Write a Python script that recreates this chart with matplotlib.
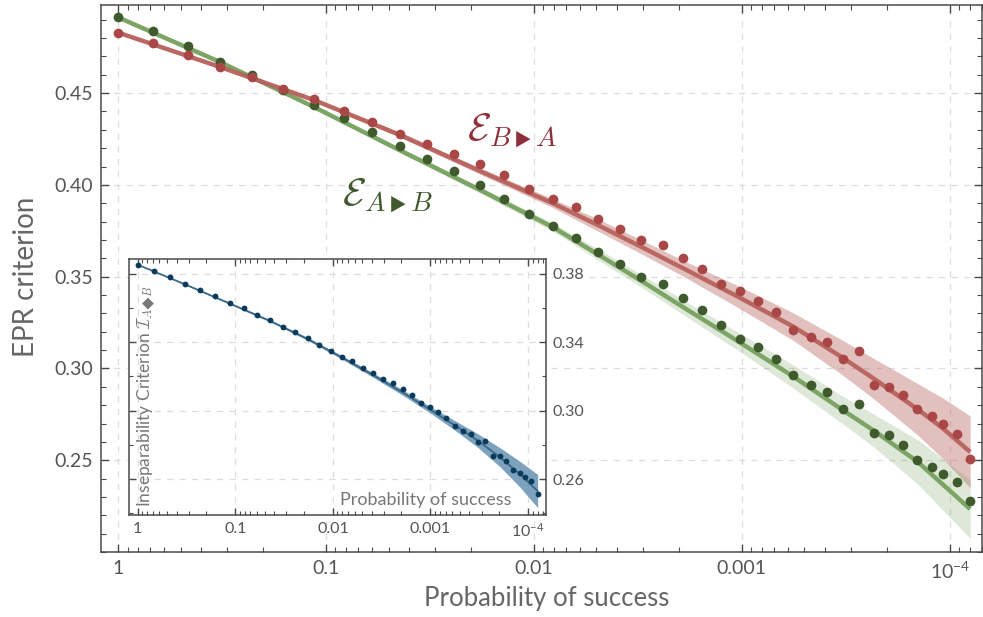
import matplotlib
matplotlib.use('Agg')
import matplotlib.pyplot as plt
import numpy as np

# probability of success (shared by all three data sets)
prob = [1.0, 0.676, 0.463, 0.324, 0.228, 0.160, 0.114, 0.0817, 0.0598, 0.0440,
        0.0327, 0.0242, 0.0182, 0.0139, 0.0105, 0.00811, 0.00630, 0.00490, 0.00387, 0.00304,
        0.00240, 0.00191, 0.00155, 0.00126, 0.00102, 0.000832, 0.000687, 0.000566, 0.000467, 0.000388,
        0.000327, 0.000274, 0.000231, 0.000196, 0.000168, 0.000143, 0.000122, 0.000108, 0.0000927, 0.0000798]

# measured EPR criterion
epr_ba = [0.4830, 0.4773, 0.4710, 0.4643, 0.4587, 0.4520, 0.4466, 0.4401, 0.4344, 0.4279,
          0.4224, 0.4168, 0.4114, 0.4056, 0.3980, 0.3924, 0.3879, 0.3814, 0.3757, 0.3701,
          0.3674, 0.3599, 0.3543, 0.3460, 0.3422, 0.3366, 0.3310, 0.3208, 0.3170, 0.3143,
          0.3049, 0.3096, 0.2909, 0.2901, 0.2853, 0.2779, 0.2743, 0.2696, 0.2641, 0.2509]
epr_ab = [0.4915, 0.4839, 0.4755, 0.4670, 0.4596, 0.4518, 0.4436, 0.4362, 0.4288, 0.4214,
          0.4140, 0.4074, 0.4000, 0.3924, 0.3842, 0.3776, 0.3712, 0.3636, 0.3571, 0.3498,
          0.3460, 0.3386, 0.3321, 0.3235, 0.3161, 0.3116, 0.3049, 0.2966, 0.2909, 0.2873,
          0.2779, 0.2808, 0.2648, 0.2640, 0.2583, 0.2500, 0.2462, 0.2426, 0.2380, 0.2277]
# inseparability criterion (inset)
insep = [0.3854, 0.3815, 0.3783, 0.3743, 0.3703, 0.3672, 0.3631, 0.3602, 0.3561, 0.3528,
         0.3489, 0.3458, 0.3424, 0.3386, 0.3347, 0.3314, 0.3293, 0.3250, 0.3219, 0.3188,
         0.3164, 0.3125, 0.3092, 0.3045, 0.3022, 0.2990, 0.2958, 0.2911, 0.2880, 0.2863,
         0.2815, 0.2824, 0.2735, 0.2736, 0.2704, 0.2653, 0.2637, 0.2610, 0.2587, 0.2513]

# theory curves (main plot), read at selected probability values
fit_idx = [0, 3, 6, 9, 12, 15, 17, 19, 21, 24, 27, 30, 32, 35, 37, 39]
fit_ba = [0.4830, 0.4643, 0.4462, 0.4272, 0.4076, 0.3900, 0.3780, 0.3662, 0.3545, 0.3385,
          0.3228, 0.3058, 0.2943, 0.2778, 0.2674, 0.2545]
err_ba = [0.0005, 0.0008, 0.0010, 0.0013, 0.0017, 0.0024, 0.0033, 0.0038, 0.0043, 0.0060,
          0.0075, 0.0095, 0.0110, 0.0140, 0.0165, 0.0196]
fit_ab = [0.4913, 0.4670, 0.4424, 0.4188, 0.3973, 0.3770, 0.3620, 0.3477, 0.3333, 0.3141,
          0.2956, 0.2773, 0.2660, 0.2492, 0.2368, 0.2234]
err_ab = [0.0005, 0.0008, 0.0010, 0.0013, 0.0017, 0.0022, 0.0030, 0.0035, 0.0040, 0.0050,
          0.0063, 0.0075, 0.0090, 0.0120, 0.0140, 0.0160]
# theory curve (inset)
fit_idx_in = [0, 3, 6, 9, 12, 15, 18, 21, 24, 27, 30, 33, 36, 39]
fit_in = [0.3854, 0.3738, 0.3627, 0.3525, 0.3420, 0.3312, 0.3208, 0.3105, 0.3008, 0.2915,
          0.2825, 0.2730, 0.2630, 0.2530]
err_in = [0.0003, 0.0004, 0.0005, 0.0006, 0.0008, 0.0010, 0.0013, 0.0016, 0.0019, 0.0028,
          0.0040, 0.0055, 0.0075, 0.0097]

xtick_vals = [1, 0.1, 0.01, 0.001, 1e-4]
xtick_labels = ['1', '0.1', '0.01', '0.001', '10$^{-4}$']
ytick_main = [0.25, 0.30, 0.35, 0.40, 0.45]
ytick_inset = [0.26, 0.30, 0.34, 0.38]

RED_PT = '#a94646'
RED_LN = '#b8625d'
RED_TXT = '#8e3039'
GRN_PT = '#3f5a2c'
GRN_LN = '#7ba465'
BLU_PT = '#0b3b5b'
BLU_LN = '#2a587a'
BLU_BAND = '#6f98b7'
AX_COL = '#4a4a4a'
TXT_COL = '#555555'

plt.rcParams['font.family'] = ['Lato', 'DejaVu Sans']
plt.rcParams['mathtext.fontset'] = 'custom'
plt.rcParams['mathtext.rm'] = 'Lato'
plt.rcParams['mathtext.it'] = 'Lato:italic'


def style_axes(ax, tick_size):
    for sp in ax.spines.values():
        sp.set_color(AX_COL)
        sp.set_linewidth(1.1)
    ax.tick_params(which='both', direction='in', top=True, right=True, color=AX_COL,
                   labelcolor=TXT_COL, labelsize=tick_size)
    ax.tick_params(which='major', length=6, width=1.0)
    ax.tick_params(which='minor', length=3.5, width=0.8)
    ax.grid(True, which='major', linestyle=(0, (5, 5)), color='#dddddd', linewidth=0.9)
    ax.set_axisbelow(True)


fig = plt.figure(figsize=(9.83, 6.17), dpi=100)
ax = fig.add_axes([101 / 983, 65 / 617, 881 / 983, 547 / 617])

px_fit = [prob[i] for i in fit_idx]
lo = np.array(fit_ba) - np.array(err_ba)
hi = np.array(fit_ba) + np.array(err_ba)
ax.fill_between(px_fit, lo, hi, color=RED_LN, alpha=0.4, lw=0)
lo = np.array(fit_ab) - np.array(err_ab)
hi = np.array(fit_ab) + np.array(err_ab)
ax.fill_between(px_fit, lo, hi, color=GRN_LN, alpha=0.25, lw=0)
ax.plot(px_fit, fit_ab, color=GRN_LN, lw=3.2, solid_capstyle='butt')
ax.plot(px_fit, fit_ba, color=RED_LN, lw=3.2, solid_capstyle='butt', alpha=0.95)
ax.plot(prob, epr_ab, 'o', color=GRN_PT, ms=7, mec='none')
ax.plot(prob, epr_ba, 'o', color=RED_PT, ms=7, mec='none')

ax.set_xscale('log')
ax.set_xlim(1.207, 7.0e-5)
ax.set_ylim(0.20, 0.498)
ax.set_xticks(xtick_vals)
ax.set_xticklabels(xtick_labels)
ax.set_yticks(ytick_main)
ax.set_yticklabels(['%.2f' % v for v in ytick_main])
ax.set_yticks(np.arange(0.20, 0.50, 0.01), minor=True)
style_axes(ax, 14)
ax.tick_params(axis='both', which='major', pad=6)
ax.set_xlabel('Probability of success', fontsize=18.5, color='#666666')
ax.set_ylabel('EPR criterion', fontsize=20, color='#666666')
ax.xaxis.set_label_coords(0.506, -0.062)
ax.yaxis.set_label_coords(-0.070, 0.503)

ax.text(0.415, 0.753, '$\\mathcal{E}_{B\\,\u25B8\\,A}$', transform=ax.transAxes,
        fontsize=28, color=RED_TXT, math_fontfamily='cm', ha='left', va='baseline')
ax.text(0.274, 0.635, '$\\mathcal{E}_{A\\,\u25B8\\,B}$', transform=ax.transAxes,
        fontsize=28, color=GRN_PT, math_fontfamily='cm', ha='left', va='baseline')

# inset
axin = fig.add_axes([129 / 983, 102 / 617, 417 / 983, 256 / 617])
axin.set_facecolor('white')
px_in = [prob[i] for i in fit_idx_in]
lo = np.array(fit_in) - np.array(err_in)
hi = np.array(fit_in) + np.array(err_in)
axin.fill_between(px_in, lo, hi, color=BLU_BAND, alpha=0.9, lw=0)
axin.plot(px_in, fit_in, color=BLU_LN, lw=1.3, alpha=0.8)
axin.plot(prob, insep, 'o', color=BLU_PT, ms=4.2, mec='none')
axin.set_xscale('log')
axin.set_xlim(1.228, 6.55e-5)
axin.set_ylim(0.239, 0.3887)
axin.set_xticks(xtick_vals)
axin.set_xticklabels(xtick_labels)
axin.set_yticks(ytick_inset)
axin.set_yticklabels(['%.2f' % v for v in ytick_inset])
axin.set_yticks(np.arange(0.24, 0.39, 0.02), minor=True)
style_axes(axin, 11.5)
axin.tick_params(which='both', labelleft=False, labelright=True)
axin.tick_params(which='major', length=5, pad=5)
axin.tick_params(which='minor', length=3)
axin.text(0.043, 0.03, 'Inseparability Criterion $\\mathcal{I}_{A\u25C6 B}$',
          transform=axin.transAxes, rotation=90, ha='center', va='bottom',
          fontsize=12.5, color='#777777', math_fontfamily='cm')
axin.text(0.918, 0.04, 'Probability of success', transform=axin.transAxes,
          ha='right', va='baseline', fontsize=13, color='#777777')

fig.savefig('out.png', dpi=100)
